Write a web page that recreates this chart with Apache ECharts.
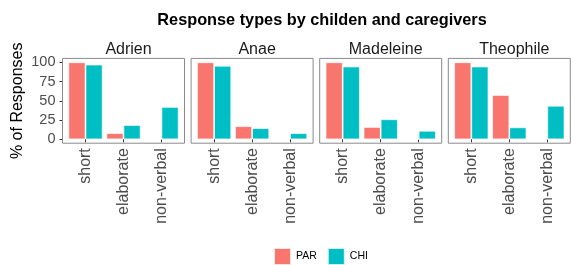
<!DOCTYPE html>
<html>
<head>
<meta charset="utf-8">
<script src="https://cdn.jsdelivr.net/npm/echarts@6/dist/echarts.min.js"></script>
<style>
  body { margin: 0; background: #fff; }
  #main { width: 571px; height: 265px; }
</style>
</head>
<body>
<div id="main"></div>
<script>
// data
var categories = ['short', 'elaborate', 'non-verbal'];
var children = ['Adrien', 'Anae', 'Madeleine', 'Theophile'];
var yTicks = [0, 25, 50, 75, 100];

var adrienPAR = [100, 8, 0];
var adrienCHI = [97, 18.5, 42];
var anaePAR = [100, 17, 0];
var anaeCHI = [95.5, 14.5, 8];
var madeleinePAR = [100, 16, 0];
var madeleineCHI = [94.5, 26, 11];
var theophilePAR = [100, 57.5, 0];
var theophileCHI = [94.5, 15.5, 43.5];

var parByChild = [adrienPAR, anaePAR, madeleinePAR, theophilePAR];
var chiByChild = [adrienCHI, anaeCHI, madeleineCHI, theophileCHI];

var FONT = "'Liberation Sans', Arial, sans-serif";
var PAR_COLOR = '#F8766D';
var CHI_COLOR = '#00BFC4';

// panel layout
var panelLeft0 = 62.5, panelStride = 128.6, panelW = 122;
var panelTop = 58.4, panelBottom = 143.2;
var gridTop = 62.3, gridH = 77;
var band = 38;
var gridW = band * categories.length;
var inset = (panelW - gridW) / 2;

var myChart = echarts.init(document.getElementById('main'));

var grids = [], xAxes = [], yAxes = [], series = [], titles = [], rects = [];

titles.push({
  text: 'Response types by childen and caregivers',
  left: 317, top: 8, textAlign: 'center',
  textStyle: { fontFamily: FONT, fontSize: 16.3, fontWeight: 'bold', color: '#000' }
});

for (var i = 0; i < children.length; i++) {
  var pl = panelLeft0 + i * panelStride;
  grids.push({ left: pl + inset, top: gridTop, width: gridW, height: gridH });

  xAxes.push({
    type: 'category', gridIndex: i, data: categories,
    offset: panelBottom - (gridTop + gridH),
    axisLine: { show: false },
    axisTick: { show: true, alignWithLabel: true, length: 3, lineStyle: { color: '#333' } },
    axisLabel: { rotate: 90, margin: 5, fontFamily: FONT, fontSize: 16, color: '#4D4D4D' }
  });

  yAxes.push({
    type: 'value', gridIndex: i, min: yTicks[0], max: yTicks[yTicks.length - 1], interval: 25,
    offset: inset,
    name: i === 0 ? '% of Responses' : '',
    nameLocation: 'middle', nameGap: 37,
    nameTextStyle: { fontFamily: FONT, fontSize: 16, color: '#000' },
    axisLine: { show: false },
    splitLine: { show: false },
    axisTick: { show: i === 0, length: 3, lineStyle: { color: '#333' } },
    axisLabel: { show: i === 0, margin: 7, fontFamily: FONT, fontSize: 14.5, color: '#4D4D4D' }
  });

  series.push({
    name: 'PAR', type: 'bar', xAxisIndex: i, yAxisIndex: i,
    data: parByChild[i], barWidth: band * 0.45, barGap: '0%',
    itemStyle: { color: PAR_COLOR, borderColor: 'rgba(255,255,255,0.8)', borderWidth: 0.8 }
  });
  series.push({
    name: 'CHI', type: 'bar', xAxisIndex: i, yAxisIndex: i,
    data: chiByChild[i], barWidth: band * 0.45, barGap: '0%',
    itemStyle: { color: CHI_COLOR, borderColor: 'rgba(255,255,255,0.8)', borderWidth: 0.8 }
  });

  titles.push({
    text: children[i],
    left: pl + panelW / 2, top: 37, textAlign: 'center',
    textStyle: { fontFamily: FONT, fontSize: 16, fontWeight: 'normal', color: '#1A1A1A' }
  });

  rects.push({
    type: 'rect', z: 10, silent: true,
    shape: { x: pl, y: panelTop, width: panelW, height: panelBottom - panelTop },
    style: { fill: null, stroke: '#8a8a8a', lineWidth: 1 }
  });
}

var option = {
  backgroundColor: '#fff',
  animation: false,
  title: titles,
  legend: {
    data: ['PAR', 'CHI'],
    left: 273, top: 247, padding: 0,
    itemWidth: 17, itemHeight: 17, itemGap: 10,
    icon: 'rect',
    textStyle: { fontFamily: FONT, fontSize: 10.5, color: '#000' }
  },
  grid: grids,
  xAxis: xAxes,
  yAxis: yAxes,
  series: series,
  graphic: rects
};

myChart.setOption(option);
</script>
</body>
</html>
